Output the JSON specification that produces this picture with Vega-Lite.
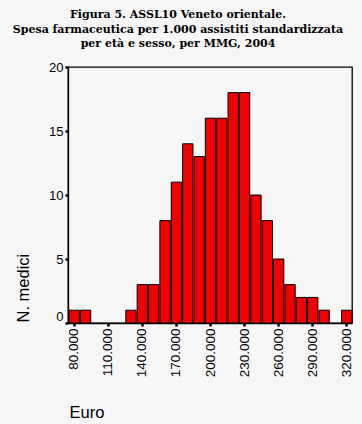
{
  "$schema": "https://vega.github.io/schema/vega-lite/v6.json",
  "width": 284,
  "height": 256,
  "autosize": "none",
  "padding": {"left": 68, "top": 67, "right": 10, "bottom": 101},
  "background": "#F7F7F7",
  "title": {
    "text": ["Figura 5. ASSL10 Veneto orientale.", "Spesa farmaceutica per 1.000 assistiti standardizzata", "per età e sesso, per MMG, 2004"],
    "font": "DejaVu Serif",
    "fontWeight": "bold",
    "fontSize": 11,
    "lineHeight": 14.5,
    "color": "#000000",
    "anchor": "middle",
    "dx": -32,
    "dy": 18,
    "offset": 21,
    "baseline": "alphabetic"
  },
  "config": {
    "view": {"stroke": "#000000", "strokeWidth": 1.3, "fill": "#F7F7F7"},
    "axis": {"grid": false, "domainColor": "#000000", "tickColor": "#000000", "labelColor": "#000000", "titleColor": "#000000", "labelFont": "Liberation Sans", "titleFont": "Liberation Sans", "titleFontWeight": "normal"}
  },
  "data": {
    "values": [
      {"start": 75000, "end": 85000, "medici": 1},
      {"start": 85000, "end": 95000, "medici": 1},
      {"start": 95000, "end": 105000, "medici": 0},
      {"start": 105000, "end": 115000, "medici": 0},
      {"start": 115000, "end": 125000, "medici": 0},
      {"start": 125000, "end": 135000, "medici": 1},
      {"start": 135000, "end": 145000, "medici": 3},
      {"start": 145000, "end": 155000, "medici": 3},
      {"start": 155000, "end": 165000, "medici": 8},
      {"start": 165000, "end": 175000, "medici": 11},
      {"start": 175000, "end": 185000, "medici": 14},
      {"start": 185000, "end": 195000, "medici": 13},
      {"start": 195000, "end": 205000, "medici": 16},
      {"start": 205000, "end": 215000, "medici": 16},
      {"start": 215000, "end": 225000, "medici": 18},
      {"start": 225000, "end": 235000, "medici": 18},
      {"start": 235000, "end": 245000, "medici": 10},
      {"start": 245000, "end": 255000, "medici": 8},
      {"start": 255000, "end": 265000, "medici": 5},
      {"start": 265000, "end": 275000, "medici": 3},
      {"start": 275000, "end": 285000, "medici": 2},
      {"start": 285000, "end": 295000, "medici": 2},
      {"start": 295000, "end": 305000, "medici": 1},
      {"start": 305000, "end": 315000, "medici": 0},
      {"start": 315000, "end": 325000, "medici": 1}
    ]
  },
  "transform": [{"filter": "datum.medici > 0"}],
  "mark": {"type": "bar", "fill": "#F00000", "stroke": "#000000", "strokeWidth": 1},
  "encoding": {
    "x": {
      "field": "start",
      "bin": "binned",
      "type": "quantitative",
      "scale": {"domain": [75000, 325000], "nice": false, "zero": false},
      "axis": {
        "title": "Euro",
        "titleFontSize": 16.5,
        "titleAlign": "left",
        "titleBaseline": "alphabetic",
        "titleX": 1,
        "titleY": 94,
        "values": [80000, 110000, 140000, 170000, 200000, 230000, 260000, 290000, 320000],
        "labelExpr": "replace(format(datum.value, ','), ',', '.')",
        "labelAngle": -90,
        "labelAlign": "right",
        "labelBaseline": "middle",
        "labelFontSize": 13.5,
        "labelPadding": 2,
        "labelFlush": false,
        "labelOverlap": false,
        "tickSize": 3,
        "tickWidth": 2.5,
        "domainWidth": 1.3
      }
    },
    "x2": {"field": "end"},
    "y": {
      "field": "medici",
      "type": "quantitative",
      "scale": {"domain": [0, 20], "nice": false},
      "axis": {
        "title": "N. medici",
        "titleFontSize": 16.5,
        "titleAngle": -90,
        "titleAlign": "left",
        "titleBaseline": "middle",
        "titleX": -45,
        "titleY": 255,
        "values": [0, 5, 10, 15, 20],
        "labelFontSize": 13,
        "labelPadding": 2,
        "labelFlush": false,
        "labelBaseline": {"condition": {"test": "datum.value == 0", "value": "bottom"}, "value": "middle"},
        "tickSize": 3,
        "tickWidth": 2.5,
        "domainWidth": 1.3
      }
    }
  }
}
